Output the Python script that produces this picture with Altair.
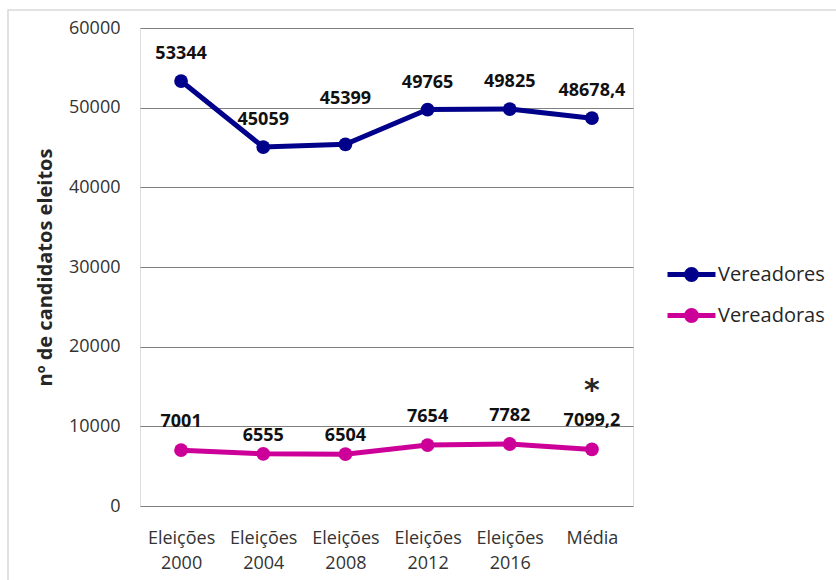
import altair as alt
import pandas as pd

# --- data -------------------------------------------------------------
categories = ["Eleições 2000", "Eleições 2004", "Eleições 2008",
              "Eleições 2012", "Eleições 2016", "Média"]
vereadores = [53344, 45059, 45399, 49765, 49825, 48678.4]
vereadoras = [7001, 6555, 6504, 7654, 7782, 7099.2]
series_names = ["Vereadores", "Vereadoras"]
y_ticks = [0, 10000, 20000, 30000, 40000, 50000, 60000]

# --- style --------------------------------------------------------------
series_colors = ["#00008B", "#CC0099"]
FONT = "Open Sans"
# how far (px) each value label sits above its marker
lift_vereadores = [27, 27, 45, 27, 27, 27]
lift_vereadoras = [28, 18, 18, 28, 28, 28]


def pt_br(v):
    """Number written with a decimal comma, no trailing zeros."""
    s = f"{v:.1f}"
    if s.endswith(".0"):
        s = s[:-2]
    return s.replace(".", ",")


rows = []
for name, vals, lifts in [("Vereadores", vereadores, lift_vereadores),
                          ("Vereadoras", vereadoras, lift_vereadoras)]:
    for cat, v, lift in zip(categories, vals, lifts):
        rows.append({"categoria": cat, "serie": name, "valor": v,
                     "rotulo": pt_br(v), "lift": lift})
df = pd.DataFrame(rows)

# legend glyph: a line through a disc (two stroked rings fill the disc)
legend_glyph = ("M-1.333,0L1.333,0"
                "M0.278,0A0.278,0.278 0 1,1 -0.278,0A0.278,0.278 0 1,1 0.278,0"
                "M0.083,0A0.083,0.083 0 1,1 -0.083,0A0.083,0.083 0 1,1 0.083,0")

x_enc = alt.X(
    "categoria:N", sort=categories, title=None,
    axis=alt.Axis(labelExpr="split(datum.label, ' ')", labelAngle=0,
                  ticks=False, domain=False, labelPadding=23,
                  labelFontSize=18, labelLineHeight=25, labelFont=FONT,
                  labelColor="#333333"),
)
y_enc = alt.Y(
    "valor:Q",
    scale=alt.Scale(domain=[0, 60000], nice=False),
    axis=alt.Axis(values=y_ticks, format="d", title="nº de candidatos eleitos",
                  ticks=False, domain=False, labelPadding=20,
                  labelFontSize=18, labelFont=FONT, labelColor="#333333",
                  gridColor="#7f7f7f", gridWidth=1,
                  titleFont=FONT, titleFontSize=20, titleFontWeight="bold",
                  titleColor="#262626", titleX=-95, titleY=239,
                  titleAngle=270, titleAlign="center", titleBaseline="middle"),
)
legend = alt.Legend(
    title=None, orient="none", legendX=531, legendY=226,
    symbolType=legend_glyph, symbolSize=1296, symbolStrokeWidth=5,
    symbolOpacity=1, labelFont=FONT, labelFontSize=20,
    labelColor="#262626", labelOffset=6, rowPadding=5, padding=0,
)
color_scale = alt.Scale(domain=series_names, range=series_colors)

base = alt.Chart(df).encode(x=x_enc, y=y_enc)

lines = base.mark_line(strokeWidth=5).encode(
    color=alt.Color("serie:N", sort=series_names, scale=color_scale,
                    legend=legend))
points = base.mark_circle(size=190, opacity=1).encode(
    color=alt.Color("serie:N", scale=color_scale, legend=None))

# value labels, one text layer per lift distance
label_layers = [
    base.mark_text(font=FONT, fontSize=18, fontWeight="bold",
                   baseline="middle", color="#111111", dy=-lift)
    .encode(text="rotulo:N")
    .transform_filter(f"datum.lift == {lift}")
    for lift in sorted(set(lift_vereadores + lift_vereadoras))
]

asterisk = base.mark_text(text="*", font="DejaVu Sans", fontSize=30,
                          fontWeight="bold", baseline="middle",
                          color="#262626", dy=-58
                          ).transform_filter(
    "datum.serie == 'Vereadoras' && datum.categoria == 'Média'")

frame = alt.Chart(alt.Data(values=[{}])).mark_rect(
    fill="transparent", stroke="#d9d9d9", strokeWidth=1.5
).encode(x=alt.value(-132), x2=alt.value(720),
         y=alt.value(-18), y2=alt.value(580))

chart = alt.layer(frame, lines, points, *label_layers, asterisk).properties(
    width=493, height=478,
    padding={"left": 140, "top": 28, "right": 203, "bottom": 74},
    autosize=alt.AutoSizeParams(type="none"),
).configure_view(stroke=None).configure(background="white")

chart.save("out.html", embed_options={"renderer": "svg", "actions": False})
